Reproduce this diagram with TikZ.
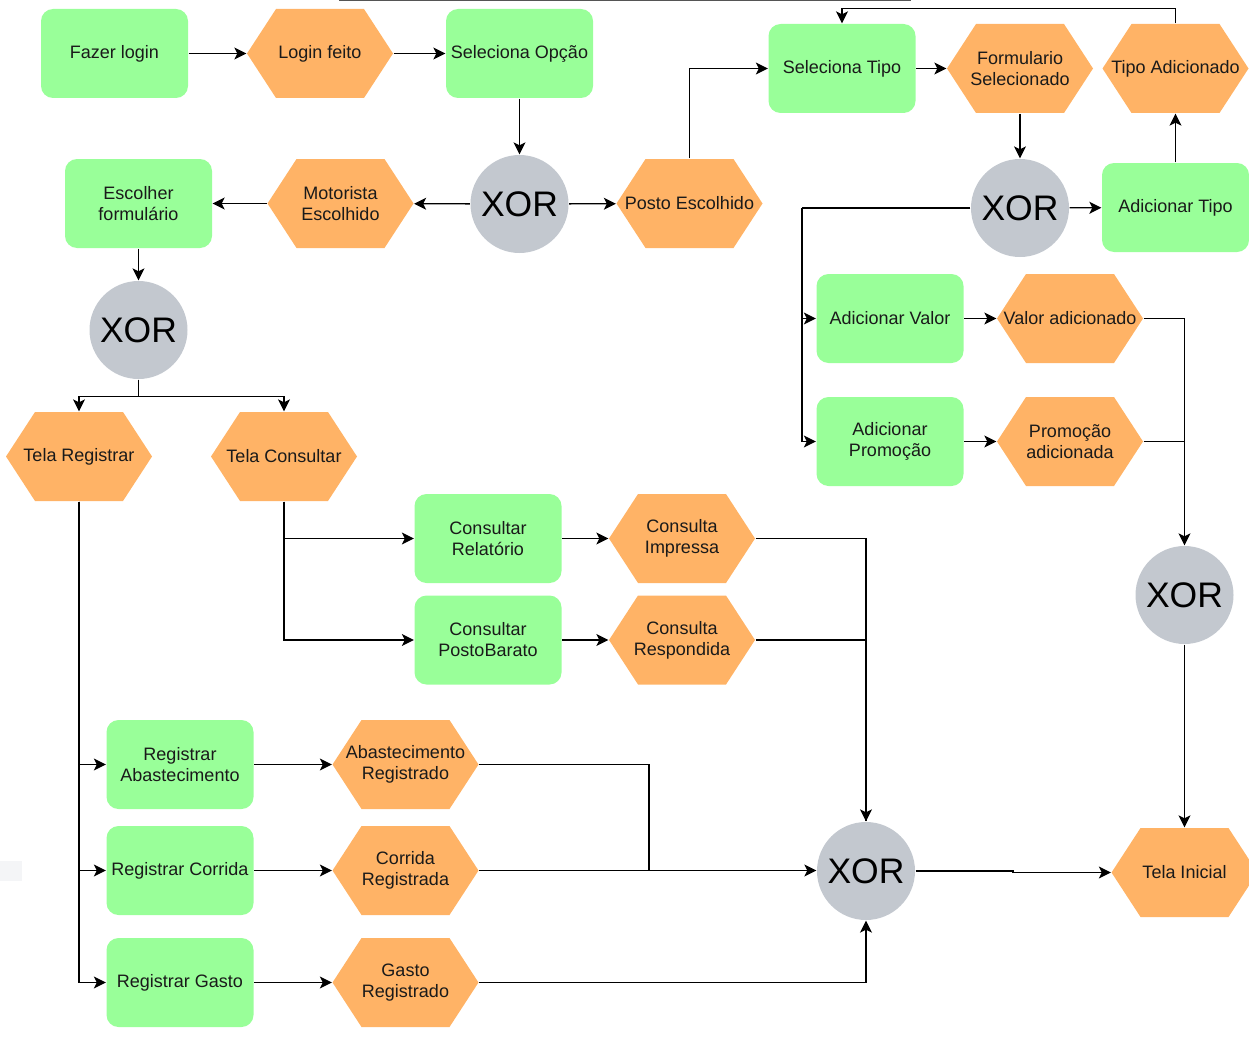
\documentclass[tikz,border=0pt]{standalone}
\usepackage{fontspec}
\setmainfont{Liberation Sans}
\usetikzlibrary{arrows.meta, positioning}

\definecolor{taskgreen}{HTML}{99FF99}
\definecolor{eventorange}{HTML}{FFB366}
\definecolor{xorgrey}{HTML}{C3C8CF}
\definecolor{textdark}{HTML}{1A1A1A}
\definecolor{edgegrey}{HTML}{555555}
\definecolor{faintgrey}{HTML}{F4F5F7}

\begin{document}
\begin{tikzpicture}[
	x=1pt, y=-1pt,
	>={Stealth[length=12pt, width=12pt, inset=3pt]},
	line width=1.3pt,
	font=\fontsize{18}{21}\selectfont,
	TaskNode/.style={rectangle, rounded corners=12pt, fill=taskgreen, text=textdark,
		minimum width=147pt, minimum height=89pt, align=center, inner sep=2pt},
	EventNode/.style={rectangle, text=textdark,
		minimum width=146pt, minimum height=89pt, align=center, inner sep=2pt,
		path picture={\fill[eventorange] (path picture bounding box.west)
			-- ([xshift=29pt]path picture bounding box.north west)
			-- ([xshift=-29pt]path picture bounding box.north east)
			-- (path picture bounding box.east)
			-- ([xshift=-29pt]path picture bounding box.south east)
			-- ([xshift=29pt]path picture bounding box.south west) -- cycle;}},
	XorNode/.style={circle, fill=xorgrey, text=black, minimum size=98pt, inner sep=0pt,
		font=\fontsize{35.5}{40}\selectfont}
	]

\useasboundingbox (0,0) rectangle (1249,1038);
\draw [edgegrey, line width=1.5pt] (339,0.75) -- (911,0.75);
\fill [faintgrey] (0,861) rectangle (22,881);

\node [TaskNode] (login) at (114.5,53.5) {Fazer login};
\node [EventNode] (feito) at (320,53.5) {Login feito};
\node [TaskNode] (opcao) at (519.5,53.5) {Seleciona Opção};
\node [XorNode] (xor1) at (519.5,204) {XOR};
\node [EventNode] (motorista) at (340.5,203.5) {Motorista\\Escolhido};
\node [TaskNode] (formulario) at (138.5,203.5) {Escolher\\formulário};
\node [EventNode] (posto) at (689.5,203.5) {Posto Escolhido};
\node [XorNode] (xor2) at (138.5,330) {XOR};
\node [EventNode] (telareg) at (79,456.5) {Tela Registrar};
\node [EventNode] (telacons) at (284,456.5) {Tela Consultar};

\node [TaskNode] (consrel) at (488,538.5) {Consultar\\Relatório};
\node [TaskNode] (conspb) at (488,640) {Consultar\\PostoBarato};
\node [EventNode] (impressa) at (682,538.5) {Consulta\\Impressa};
\node [EventNode] (respondida) at (682,640) {Consulta\\Respondida};

\node [TaskNode] (regabast) at (180,764.5) {Registrar\\Abastecimento};
\node [TaskNode] (regcorrida) at (180,870.5) {Registrar Corrida};
\node [TaskNode] (reggasto) at (180,982.5) {Registrar Gasto};
\node [EventNode] (abastok) at (405.5,764.5) {Abastecimento\\Registrado};
\node [EventNode] (corridaok) at (405.5,870.5) {Corrida\\Registrada};
\node [EventNode] (gastook) at (405.5,982.5) {Gasto\\Registrado};
\node [XorNode] (xor3) at (866,871) {XOR};
\node [EventNode] (inicial) at (1184.5,872.5) {Tela Inicial};

\node [TaskNode] (seltipo) at (842,68.5) {Seleciona Tipo};
\node [EventNode] (formsel) at (1020,68.5) {Formulario\\Selecionado};
\node [EventNode] (tipook) at (1175.5,68.5) {Tipo Adicionado};
\node [XorNode] (xor5) at (1020,208) {XOR};
\node [TaskNode] (addtipo) at (1175.5,207.5) {Adicionar Tipo};
\node [TaskNode] (addvalor) at (890,318.5) {Adicionar Valor};
\node [EventNode] (valorok) at (1070,318.5) {Valor adicionado};
\node [TaskNode] (addpromo) at (890,441.5) {Adicionar\\Promoção};
\node [EventNode] (promook) at (1070,441.5) {Promoção\\adicionada};
\node [XorNode] (xor4) at (1184.5,595) {XOR};

\coordinate (merge) at (649,871);
\coordinate (split) at (802,208);

\draw [->] (login) -- (feito);
\draw [->] (feito) -- (opcao);
\draw [->] (opcao) -- (xor1);
\draw [->] (xor1) -- (motorista);
\draw [->] (motorista) -- (formulario);
\draw [->] (xor1) -- (posto);
\draw [->] (formulario) -- (xor2);
\draw [->] (xor2.south) -- ++(0,17) -| (telareg.north);
\draw [->] (xor2.south) -- ++(0,17) -| (telacons.north);

\draw [->] (telacons.south) |- (consrel);
\draw [->] (telacons.south) |- (conspb);
\draw [->] (consrel) -- (impressa);
\draw [->] (conspb) -- (respondida);
\draw [->] (impressa) -| (xor3);
\draw (respondida) -| (xor3);

\draw [->] (telareg.south) |- (regabast);
\draw [->] (telareg.south) |- (regcorrida);
\draw [->] (telareg.south) |- (reggasto);
\draw [->] (regabast) -- (abastok);
\draw [->] (regcorrida) -- (corridaok);
\draw [->] (reggasto) -- (gastook);
\draw (abastok) -| (merge);
\draw [->] (corridaok.east) -- (corridaok.east -| xor3.west);
\draw [->] (gastook) -| (xor3);
\draw [->] (xor3) -- ++(147,0) |- (inicial);

\draw [->] (posto) |- (seltipo);
\draw [->] (seltipo) -- (formsel);
\draw [->] (formsel) -- (xor5);
\draw [->] (xor5) -- (addtipo);
\draw [->] (addtipo) -- (tipook);
\draw [->] (tipook.north) -- ++(0,-15) -| (seltipo.north);
\draw (xor5) -- (split);
\draw [->] (split) |- (addvalor);
\draw [->] (split) |- (addpromo);
\draw [->] (addvalor) -- (valorok);
\draw [->] (addpromo) -- (promook);
\draw [->] (valorok) -| (xor4);
\draw (promook) -| (xor4);
\draw [->] (xor4) -- (inicial);

\end{tikzpicture}
\end{document}
